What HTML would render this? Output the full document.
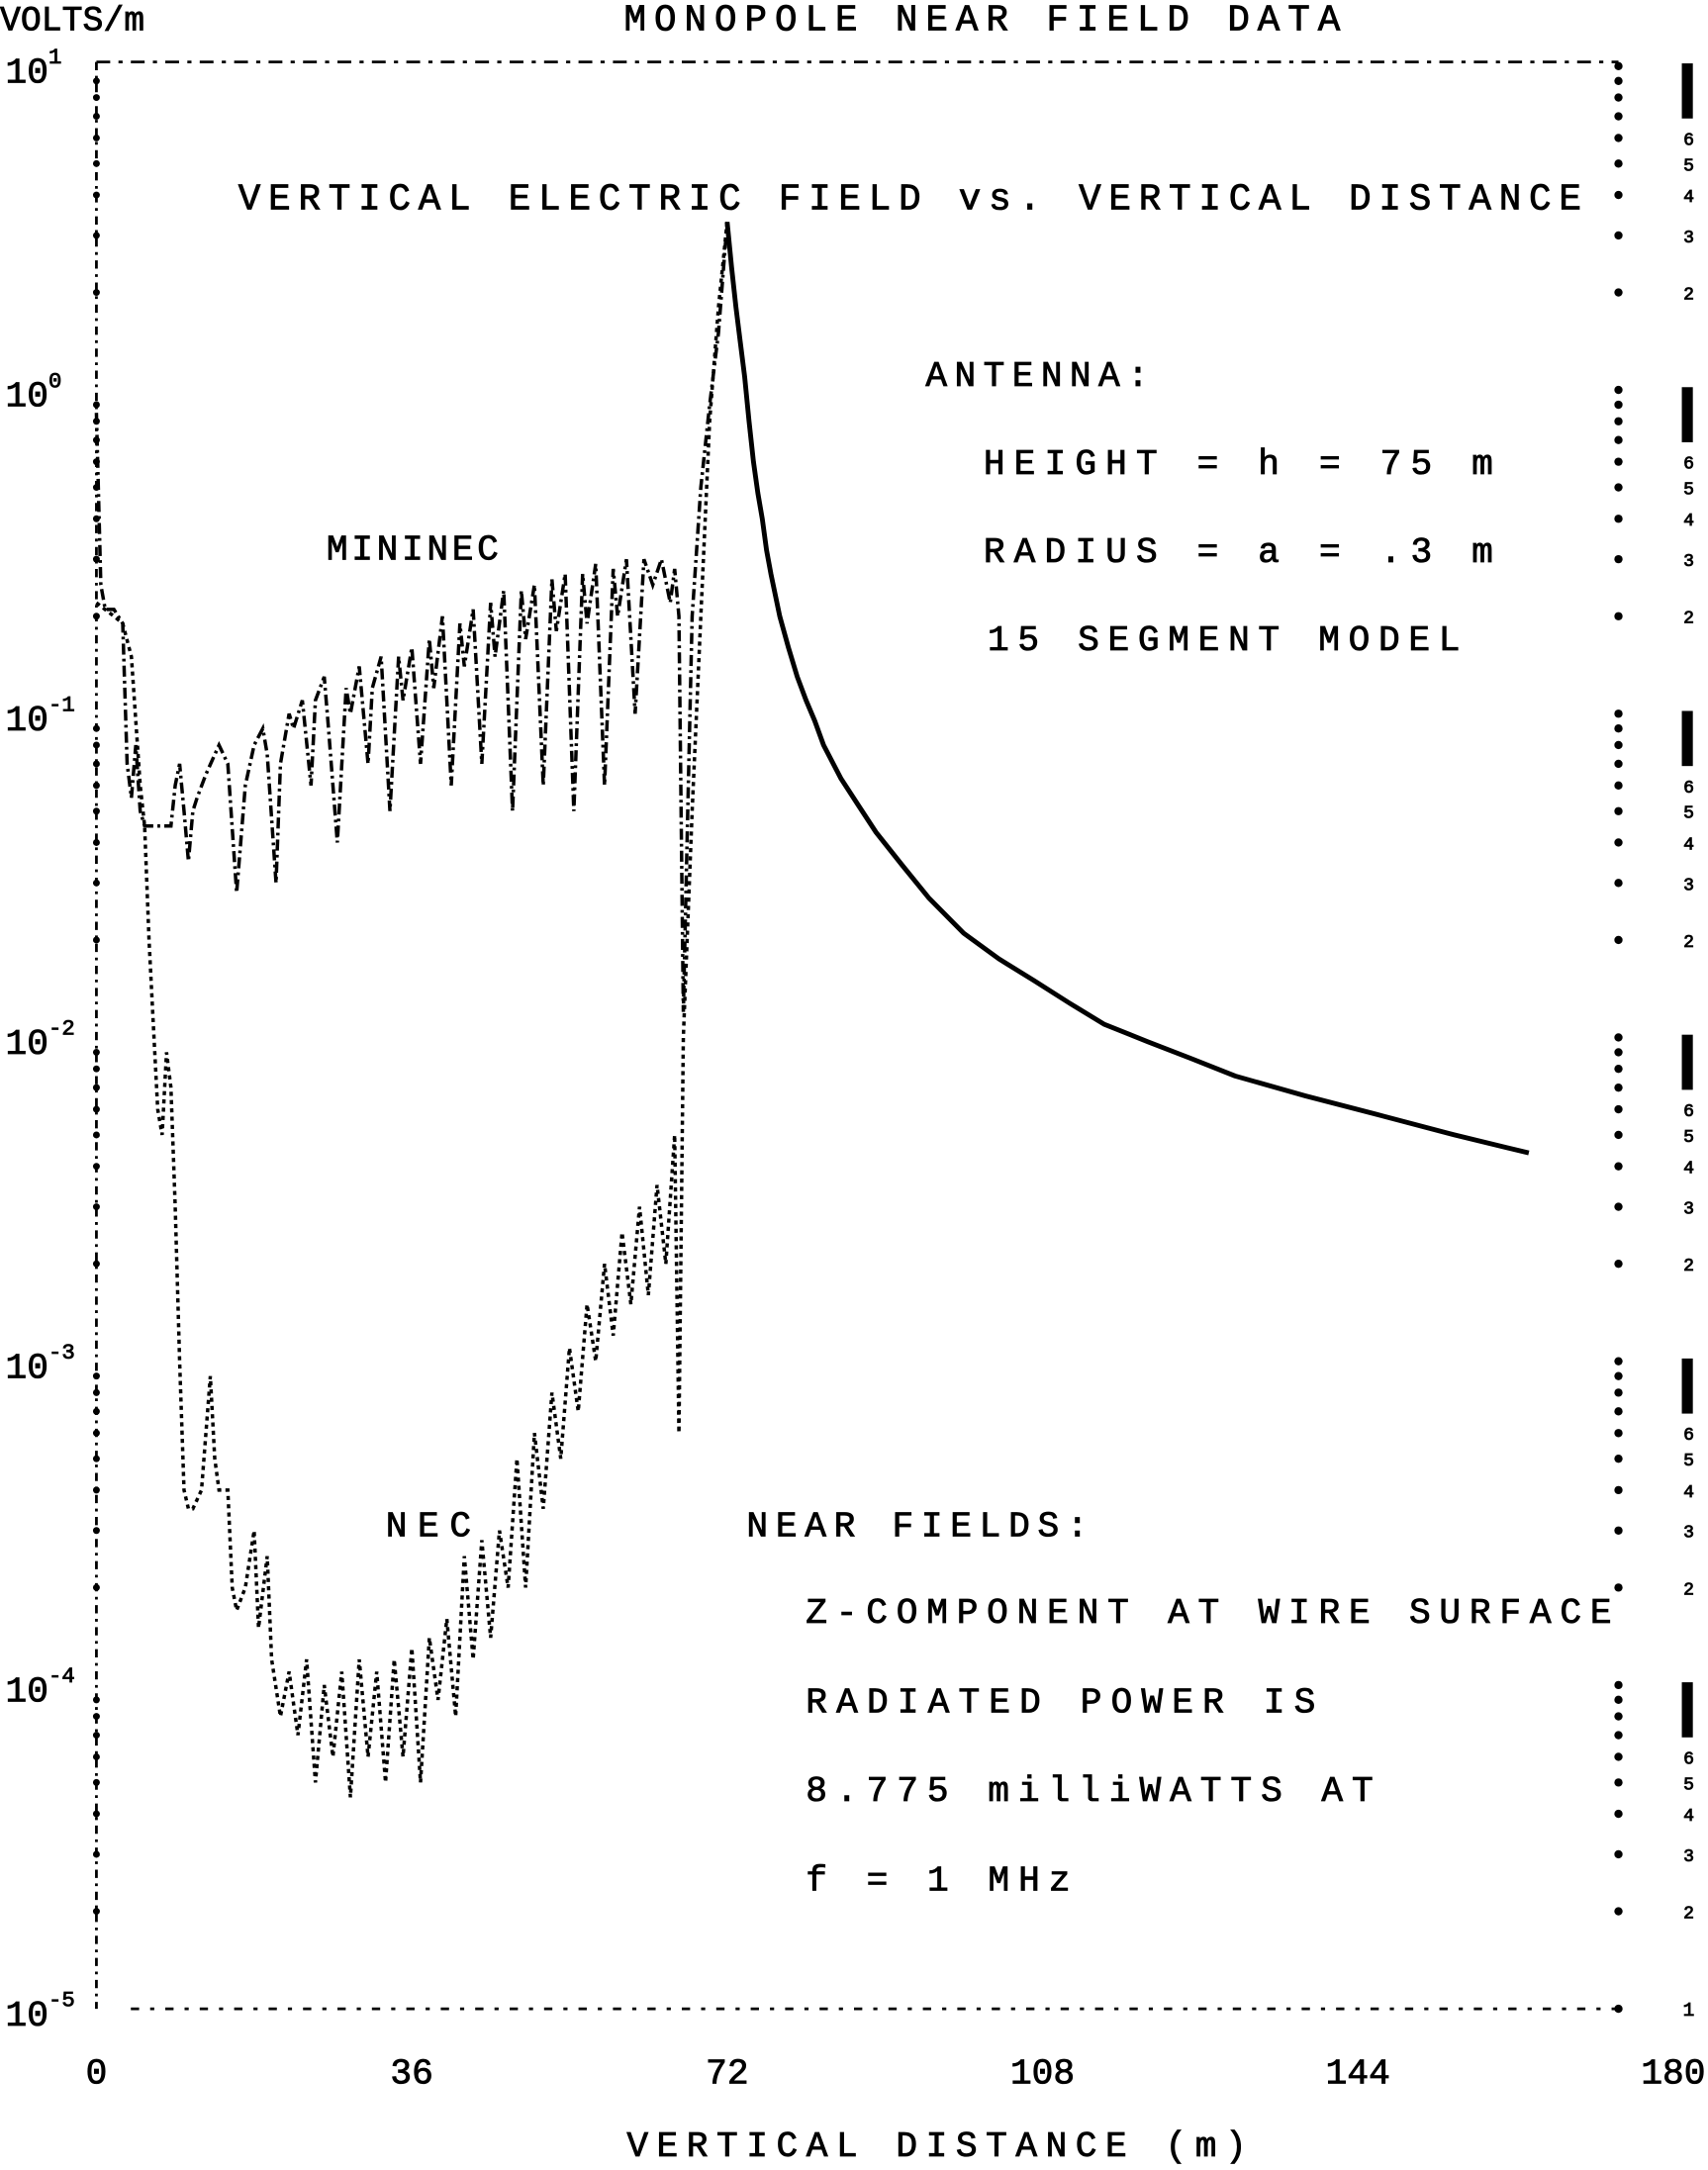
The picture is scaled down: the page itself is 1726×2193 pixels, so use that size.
<!DOCTYPE html>
<html><head><meta charset="utf-8">
<style>
html,body{margin:0;padding:0;background:#fff;}
svg{display:block;}
text{font-family:"Liberation Mono",monospace;font-weight:normal;fill:#000;stroke:#000;stroke-width:0.6;}
</style></head>
<body>
<svg id="chart" width="1726" height="2193" viewBox="0 0 1240 1575" preserveAspectRatio="none" xmlns="http://www.w3.org/2000/svg">
<rect x="0" y="0" width="1240" height="1575" fill="#fff"/>
<g id="axes"></g>
<g id="series"></g>
<text x="0" y="22" font-size="25">VOLTS/m</text>
<text x="453" y="22" font-size="27" textLength="520">MONOPOLE NEAR FIELD DATA</text>
<text x="173" y="152" font-size="27" textLength="975">VERTICAL ELECTRIC FIELD vs. VERTICAL DISTANCE</text>
<text x="672" y="280" font-size="26" textLength="162">ANTENNA:</text>
<text x="714" y="344" font-size="26" textLength="370">HEIGHT = h = 75 m</text>
<text x="714" y="408" font-size="26" textLength="370">RADIUS = a = .3 m</text>
<text x="717" y="472" font-size="26" textLength="343">15 SEGMENT MODEL</text>
<text x="237" y="406" font-size="26" textLength="125">MININEC</text>
<text x="280" y="1115" font-size="26" textLength="62">NEC</text>
<text x="542" y="1115" font-size="26" textLength="248">NEAR FIELDS:</text>
<text x="585" y="1178" font-size="26" textLength="585">Z-COMPONENT AT WIRE SURFACE</text>
<text x="585" y="1243" font-size="26" textLength="370">RADIATED POWER IS</text>
<text x="585" y="1307" font-size="26" textLength="412">8.775 milliWATTS AT</text>
<text x="585" y="1372" font-size="26" textLength="192">f = 1 MHz</text>
<text x="455" y="1565" font-size="26" textLength="450">VERTICAL DISTANCE (m)</text>
</svg>
<script>
const xTicks=[0,36,72,108,144,180];
const xTickLabels=["0","36","72","108","144","180"];
const yDecades=[1,0,-1,-2,-3,-4,-5];
const yTickLabels=["1","0","-1","-2","-3","-4","-5"];
const mininecX=[0,0.5,1,2,3,3.5,4,4.5,5,5.5,8.5,9,9.5,10,10.5,11,11.5,12.5,14,15,16,17,18,19,19.5,20.5,21,22,22.5,23.5,24.5,25,26,26.5,27.5,28.5,29,30,31,31.5,32.5,33.5,34.5,35,36,37,38,38.5,39.5,40.5,41.5,42,43,44,45,45.5,46.5,47.5,48.5,49,50,51,52,52.5,53.5,54.5,55.5,56,57,58,59,59.5,60.5,61.5,62.5,63.5,64.5,65.5,66,66.5,67,67.5,68,69,70,71,72];
const mininecV=[0.85,0.25,0.21,0.21,0.19,0.07,0.055,0.08,0.05,0.045,0.045,0.06,0.07,0.05,0.035,0.05,0.055,0.065,0.08,0.07,0.028,0.06,0.08,0.09,0.075,0.03,0.07,0.1,0.09,0.11,0.06,0.11,0.13,0.09,0.04,0.12,0.1,0.14,0.07,0.12,0.15,0.05,0.15,0.11,0.16,0.07,0.17,0.12,0.2,0.06,0.19,0.14,0.21,0.07,0.22,0.15,0.24,0.05,0.24,0.17,0.25,0.06,0.26,0.18,0.27,0.05,0.27,0.19,0.29,0.06,0.28,0.2,0.3,0.1,0.3,0.25,0.3,0.22,0.28,0.2,0.012,0.05,0.2,0.5,0.9,1.5,3.3];
const necX=[0,2,3,4,5,5.5,6,6.5,7,7.5,8,8.5,9,9.5,10,10.5,11,12,13,13.5,14,15,15.5,16,17,18,18.5,19.5,20,21,22,23,24,25,26,27,28,29,30,31,32,33,34,35,36,37,38,39,40,41,42,43,44,45,46,47,48,49,50,51,52,53,54,55,56,57,58,59,60,61,62,63,64,65,66,66.5,67,68,69,70,71,72];
const necV=[0.22,0.2,0.19,0.15,0.06,0.045,0.02,0.011,0.006,0.005,0.009,0.007,0.003,0.001,0.0004,0.00035,0.00035,0.0004,0.0009,0.0005,0.0004,0.0004,0.0002,0.00017,0.0002,0.0003,0.00015,0.00025,0.00012,0.00008,0.00011,0.00007,0.00012,0.00005,0.0001,0.00006,0.00011,0.000045,0.00012,0.00006,0.00011,0.00005,0.00012,0.00006,0.00013,0.00005,0.00014,0.00009,0.00016,0.00008,0.00025,0.00012,0.00028,0.00014,0.0003,0.0002,0.0005,0.0002,0.0006,0.00035,0.0008,0.0005,0.0011,0.0007,0.0015,0.001,0.002,0.0012,0.0025,0.0015,0.003,0.0016,0.0035,0.002,0.005,0.0006,0.01,0.05,0.2,0.8,1.8,3.3];
const decayX=[72,72.5,73,73.5,74,74.5,75,75.5,76,76.5,77,78,79,80,81,82,83,85,87,89,92,95,99,103,107,111,115,120,125,130,138,146,155,163.5];
const decayV=[3.3,2.4,1.8,1.4,1.1,0.8,0.6,0.48,0.4,0.32,0.27,0.2,0.16,0.13,0.11,0.095,0.08,0.063,0.052,0.043,0.034,0.027,0.021,0.0175,0.015,0.0128,0.011,0.0097,0.0086,0.0076,0.0066,0.0058,0.005,0.0044];

const NS="http://www.w3.org/2000/svg";
const X0=70,PXM=6.36,Y0=283,PXD=235;
function xs(m){return X0+m*PXM;}
function ys(v){return Y0-Math.log10(v)*PXD;}
function yd(d){return Y0-d*PXD;}
function mk(tag,attrs,parent){const e=document.createElementNS(NS,tag);for(const k in attrs)e.setAttribute(k,attrs[k]);parent.appendChild(e);return e;}
const axes=document.getElementById('axes'), ser=document.getElementById('series');

let e;
e=mk('line',{x1:70,y1:45,x2:70,y2:1458,stroke:'#000','stroke-width':2,'stroke-dasharray':'6,4,2,4'},axes);


e=mk('line',{x1:70,y1:45,x2:1175,y2:45,stroke:'#000','stroke-width':2,'stroke-dasharray':'10,6,3,6'},axes);


e=mk('line',{x1:95,y1:1458,x2:1175,y2:1458,stroke:'#000','stroke-width':2,'stroke-dasharray':'6,8,3,8'},axes);



xTicks.forEach((t,i)=>{
  e=mk('text',{x:xs(t),y:1512,'font-size':26,'text-anchor':'middle'},axes);
  e.textContent=xTickLabels[i];
  
  
});
yDecades.forEach((d,i)=>{
  const y=yd(d);
  e=mk('text',{x:4,y:y+12,'font-size':26},axes);
  e.textContent='10';
  
  
  const s=mk('tspan',{dy:-14,'font-size':16},e);
  s.textContent=yTickLabels[i];
  if(d>-5){
    for(let k=2;k<=9;k++){
      const yy=y+Math.log10(10/k)*PXD;
      e=mk('circle',{cx:70,cy:yy,r:2.5,fill:'#000'},axes);
      
      
      e=mk('circle',{cx:1175,cy:yy,r:3,fill:'#000'},axes);
      
      
      if(k<=6){
        e=mk('text',{x:1226,y:yy+5,'font-size':13,'text-anchor':'middle'},axes);
        e.textContent=String(k);
        
        
      }
    }
    e=mk('rect',{x:1221,y:y-2,width:8,height:40,fill:'#000'},axes);
    
    
  }
  e=mk('circle',{cx:1175,cy:y,r:3,fill:'#000'},axes);
  
  
});
e=mk('text',{x:1226,y:1463,'font-size':14,'text-anchor':'middle'},axes);
e.textContent='1';



function path(xa,va){return xa.map((x,i)=>(i?'L':'M')+xs(x).toFixed(1)+','+ys(va[i]).toFixed(1)).join(' ');}
e=mk('path',{d:path(necX,necV),fill:'none',stroke:'#000','stroke-width':2.5,'stroke-dasharray':'3,3'},ser);


e=mk('path',{d:path(mininecX,mininecV),fill:'none',stroke:'#000','stroke-width':2.5,'stroke-dasharray':'8,3,2,3'},ser);


e=mk('path',{d:path(decayX,decayV),fill:'none',stroke:'#000','stroke-width':3.5,'stroke-linejoin':'round'},ser);


</script>
</body></html>
